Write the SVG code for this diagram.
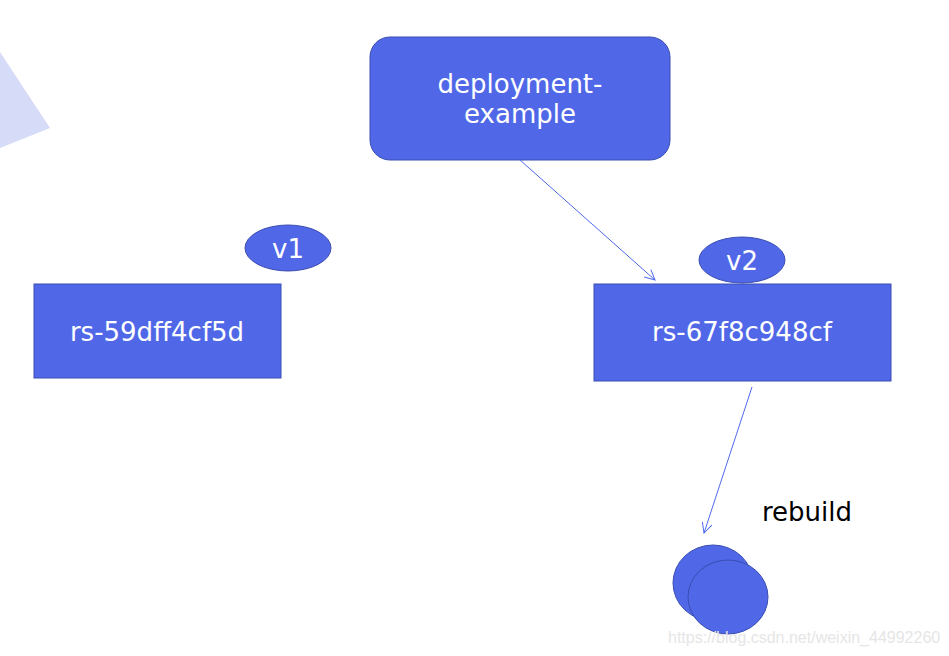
<svg xmlns="http://www.w3.org/2000/svg" width="949" height="656" viewBox="0 0 949 656">
<defs>
<style>
.n{fill:#5068E8;stroke:#3A4DB0;stroke-width:1}
.t{font-family:"DejaVu Sans",sans-serif;font-size:26px;fill:#fff;text-anchor:middle}
.c{stroke:#4F6AF0;stroke-width:1;fill:none}
</style>
<marker id="a" markerWidth="14" markerHeight="14" refX="12" refY="7" orient="auto" markerUnits="userSpaceOnUse">
<path d="M2,2 L12,7 L2,12" fill="none" stroke="#4F6AF0" stroke-width="1"/>
</marker>
</defs>
<rect width="949" height="656" fill="#fff"/>
<polygon points="0,52 50,128 0,148" fill="#D6DBF8"/>
<g id="deployment">
<rect class="n" x="370" y="37" width="300" height="123" rx="20"/>
<text class="t" x="520" y="93">deployment-</text>
<text class="t" x="520" y="123">example</text>
</g>
<g id="v1">
<ellipse class="n" cx="288" cy="248" rx="43" ry="23"/>
<text class="t" x="288" y="258">v1</text>
</g>
<g id="rs1">
<rect class="n" x="34" y="284" width="247" height="94"/>
<text class="t" x="157" y="341">rs-59dff4cf5d</text>
</g>
<g id="v2">
<ellipse class="n" cx="742" cy="260" rx="43" ry="23"/>
<text class="t" x="742" y="270">v2</text>
</g>
<g id="rs2">
<rect class="n" x="594" y="284" width="297" height="97"/>
<text class="t" x="742" y="341">rs-67f8c948cf</text>
</g>
<g id="pods">
<ellipse class="n" cx="713" cy="583" rx="40" ry="38"/>
<ellipse class="n" cx="728" cy="597" rx="40" ry="37"/>
</g>
<g id="rebuild">
<text x="762" y="521" font-family="DejaVu Sans,sans-serif" font-size="26" fill="#000">rebuild</text>
</g>
<g id="connectors">
<line class="c" x1="520" y1="160" x2="655" y2="280" marker-end="url(#a)"/>
<line class="c" x1="752" y1="387" x2="704" y2="533" marker-end="url(#a)"/>
</g>
<text x="668" y="643" font-family="Liberation Sans,Arial,sans-serif" font-size="16" fill="#E6E6E6">https://blog.csdn.net/weixin_44992260</text>
</svg>
